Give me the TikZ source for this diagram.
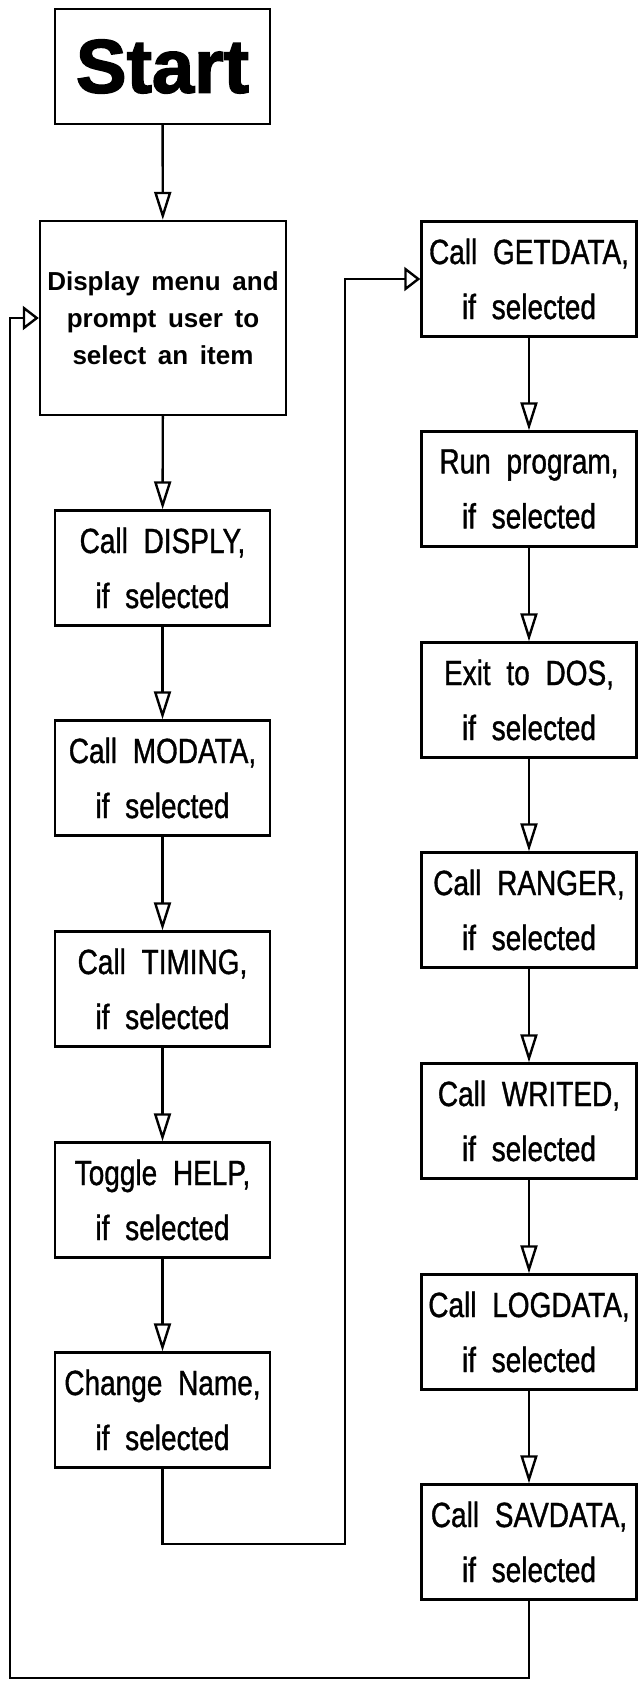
\documentclass[tikz,border=0pt]{standalone}
\usepackage{fontspec}
\setmainfont{Liberation Sans}
\newfontfamily\boxfont{Liberation Sans}[FakeStretch=0.8, UprightFeatures={FakeBold=1}]
\newfontfamily\startfont{Liberation Sans}[BoldFeatures={FakeBold=2}]
\usetikzlibrary{arrows.meta}

\tikzset{
  menubox/.style={draw, line width=1.2pt, minimum width=107.5pt, minimum height=57.5pt,
    inner sep=0pt, align=center, font=\boxfont\fontsize{17.5}{27.5}\selectfont,
    execute at begin node={\spaceskip=0.45em\relax}},
  flow/.style={line width=1.2pt, -{Triangle[open, length=14pt, width=8.5pt]}},
  loopback/.style={line width=1.2pt, -{Triangle[open, length=8pt, width=12pt]}}
}

\begin{document}
\begin{tikzpicture}[x=0.5pt, y=-0.5pt]
  \useasboundingbox (0,0) rectangle (639,1688);
  % kolom kiri
  \node[menubox, font=\startfont\bfseries\fontsize{38}{40}\selectfont] (start) at (162.5,66.5) {Start};
  \node[menubox, minimum width=123pt, minimum height=97pt,
    font=\bfseries\fontsize{13}{18.5}\selectfont] (menu) at (163,318)
    {Display menu and\\prompt user to\\select an item};
  \node[menubox] (disply) at (162.5,568) {Call DISPLY,\\if selected};
  \node[menubox] (modata) at (162.5,778) {Call MODATA,\\if selected};
  \node[menubox] (timing) at (162.5,989) {Call TIMING,\\if selected};
  \node[menubox] (help) at (162.5,1200) {Toggle HELP,\\if selected};
  \node[menubox] (chname) at (162.5,1410) {Change Name,\\if selected};
  % kolom kanan
  \node[menubox] (getdata) at (529,279) {Call GETDATA,\\if selected};
  \node[menubox] (runprog) at (529,489) {Run program,\\if selected};
  \node[menubox] (exitdos) at (529,700) {Exit to DOS,\\if selected};
  \node[menubox] (ranger) at (529,910) {Call RANGER,\\if selected};
  \node[menubox] (writed) at (529,1121) {Call WRITED,\\if selected};
  \node[menubox] (logdata) at (529,1332) {Call LOGDATA,\\if selected};
  \node[menubox] (savdata) at (529,1542) {Call SAVDATA,\\if selected};
  % panah lurus
  \draw[flow] (start) -- (menu);
  \draw[flow] (menu) -- (disply);
  \draw[flow] (disply) -- (modata);
  \draw[flow] (modata) -- (timing);
  \draw[flow] (timing) -- (help);
  \draw[flow] (help) -- (chname);
  \draw[flow] (getdata) -- (runprog);
  \draw[flow] (runprog) -- (exitdos);
  \draw[flow] (exitdos) -- (ranger);
  \draw[flow] (ranger) -- (writed);
  \draw[flow] (writed) -- (logdata);
  \draw[flow] (logdata) -- (savdata);
  % jalur balik
  \coordinate (turnA) at (345,1544);
  \coordinate (turnB) at (10,1678);
  \draw[loopback] (chname.south) |- (turnA) |- (getdata.west);
  \draw[loopback] (savdata.south) |- (turnB) |- (menu.west);
\end{tikzpicture}
\end{document}
